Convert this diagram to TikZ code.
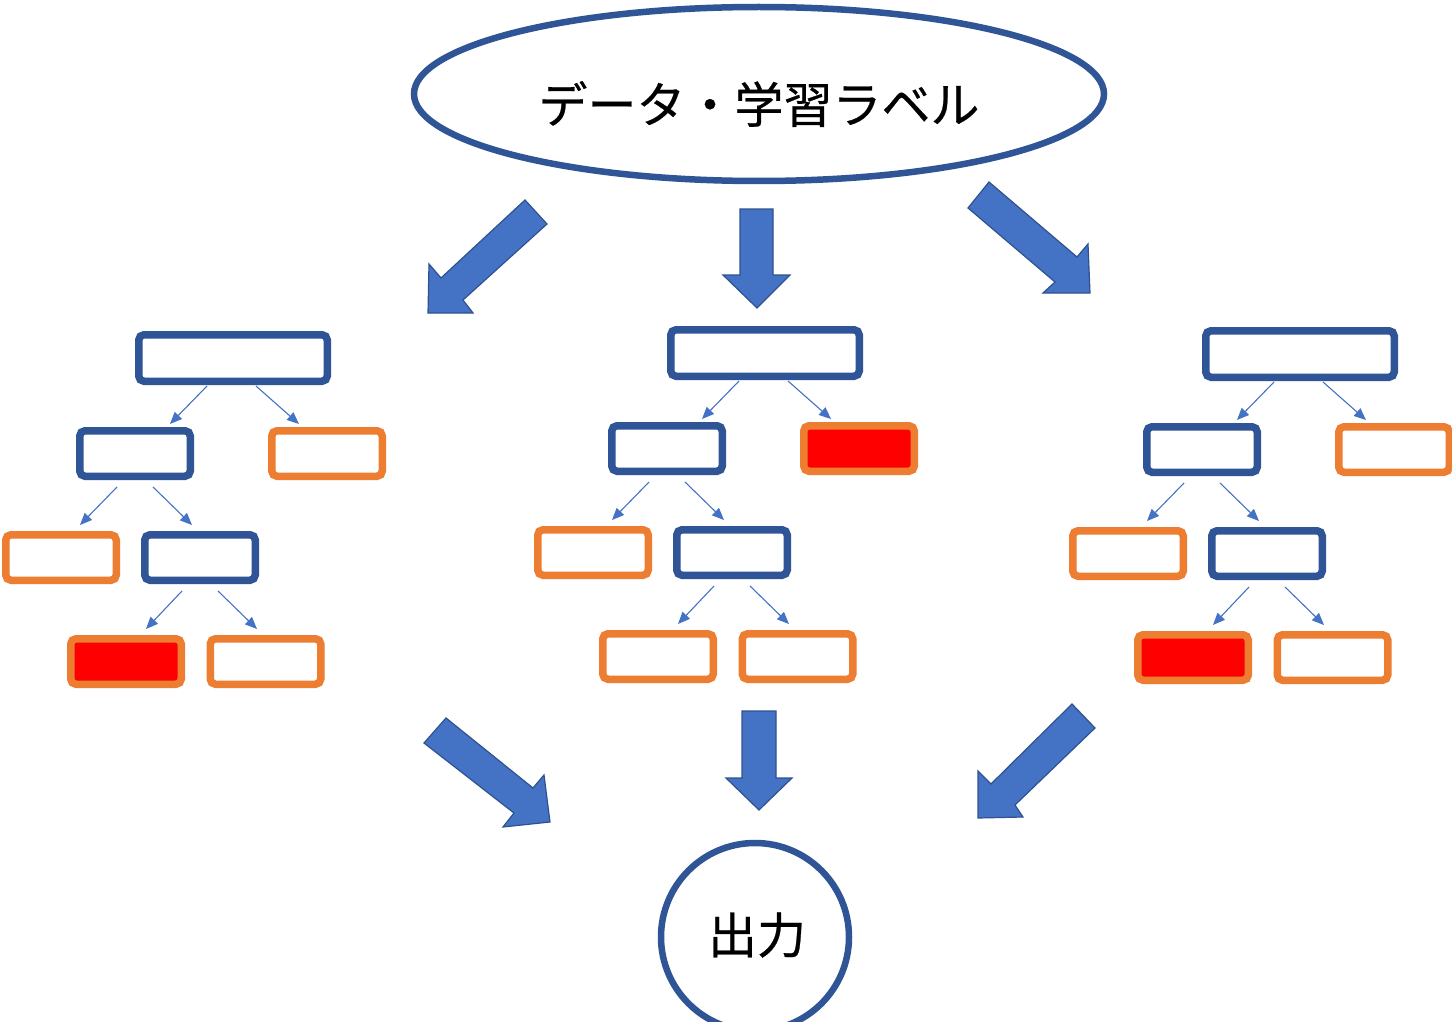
\documentclass[tikz,border=0pt]{standalone}
\usepackage{fontspec}
\newfontfamily\jp{Noto Sans CJK JP}[FakeBold=0.5]
\usetikzlibrary{shapes.geometric,arrows.meta,calc}
\definecolor{dblue}{HTML}{2F5597}
\definecolor{mblue}{HTML}{4472C4}
\definecolor{aborder}{HTML}{2F528F}
\definecolor{orng}{HTML}{ED7D31}
\definecolor{rred}{HTML}{FF0000}
\tikzset{
  boxbase/.style={draw, rectangle, rounded corners=2.6pt, line width=3.75pt, inner sep=0pt, fill=white},
  bigbox/.style={boxbase, draw=dblue, minimum width=94.25pt, minimum height=23.25pt},
  bluebox/.style={boxbase, draw=dblue, minimum width=55.25pt, minimum height=22.75pt},
  orangebox/.style={boxbase, draw=orng, minimum width=55.25pt, minimum height=22.75pt},
  redbox/.style={boxbase, draw=orng, fill=rred, minimum width=55.25pt, minimum height=22.75pt},
  thinarrow/.style={draw=mblue, line width=0.55pt, -{Triangle[length=6pt,width=5pt]}},
  blockarrow/.style={fill=mblue, draw=aborder, line width=0.6pt, line join=miter},
  jptext/.style={font=\jp\fontsize{24.5pt}{30pt}\selectfont, inner sep=0pt}
}
\newcommand\dtree[5]{%
  \node[bigbox] (#1r) at (#2+233,#3+358) {};
  \node[bluebox] (#1a) at (#2+135,#3+453.5) {};
  \node[#4] (#1b) at (#2+327,#3+453.5) {};
  \node[orangebox] (#1c) at (#2+61,#3+557.5) {};
  \node[bluebox] (#1d) at (#2+200,#3+557.5) {};
  \node[#5] (#1e) at (#2+126,#3+661.5) {};
  \node[orangebox] (#1f) at (#2+265.5,#3+661.5) {};
  \draw[thinarrow] ($(#1r.south)+(-26,1)$) -- ($(#1a.north)+(35,-3)$);
  \draw[thinarrow] ($(#1r.south)+(23,1)$) -- ($(#1b.north)+(-28,-3)$);
  \draw[thinarrow] ($(#1a.south)+(-18,7)$) -- ($(#1c.north)+(19,-6)$);
  \draw[thinarrow] ($(#1a.south)+(18,7)$) -- ($(#1d.north)+(-8,-6)$);
  \draw[thinarrow] ($(#1d.south)+(-18,7)$) -- ($(#1e.north)+(20,-6)$);
  \draw[thinarrow] ($(#1d.south)+(18,7)$) -- ($(#1f.north)+(-8.5,-6)$);
}
\begin{document}
\begin{tikzpicture}[x=0.5pt,y=-0.5pt]
\useasboundingbox (0,0) rectangle (1452,1022);
\fill[white] (0,0) rectangle (1452,1022);
% top ellipse
\node[ellipse, draw=dblue, line width=3.25pt, minimum width=345pt, minimum height=87pt, inner sep=0pt] (data) at (759,94) {};
\node[jptext] (datatext) at (759,104) {データ・学習ラベル};
% output circle
\node[circle, draw=dblue, line width=3.25pt, minimum size=94pt, inner sep=0pt] (out) at (755,937) {};
\node[jptext] (outtext) at (757,935) {出力};
% block arrows (top)
\draw[blockarrow] (428,313) -- (429,264) -- (441,278) -- (525,200) -- (547,224) -- (463,300) -- (473,313) -- cycle;
\draw[blockarrow] (740,209) -- (773,209) -- (773,275) -- (790,275) -- (757,308) -- (723,275) -- (740,275) -- cycle;
\draw[blockarrow] (968,208) -- (989,182) -- (1077,257) -- (1088,244) -- (1090,293) -- (1043,293) -- (1055,282) -- cycle;
% block arrows (bottom)
\draw[blockarrow] (424,743) -- (446,718) -- (533,788) -- (544,775) -- (550,822) -- (503,827) -- (514,813) -- cycle;
\draw[blockarrow] (742,711) -- (776,711) -- (776,778) -- (792,778) -- (759,810) -- (726,778) -- (742,778) -- cycle;
\draw[blockarrow] (1072,704) -- (1095,728) -- (1015,805) -- (1023,817) -- (978,818) -- (978,771) -- (991,784) -- cycle;
% trees
\dtree{L}{0}{0}{orangebox}{redbox}
\dtree{M}{532}{-5}{redbox}{orangebox}
\dtree{R}{1067}{-4}{orangebox}{redbox}
\end{tikzpicture}
\end{document}
